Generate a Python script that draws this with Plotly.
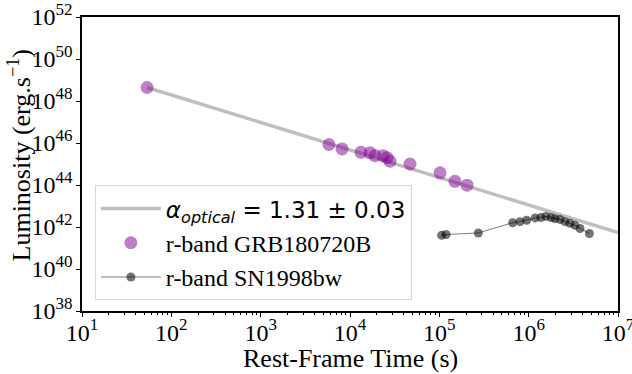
import numpy as np
import plotly.graph_objects as go

# GRB180720B r-band (rest-frame time s, luminosity erg/s)
grb_t = [53.5, 5820, 8150, 13270, 16750, 19050, 23440, 25950, 28050, 46970, 101900, 149600, 204300]
grb_L = [4.4e48, 8.5e45, 5.2e45, 3.6e45, 3.4e45, 2.5e45, 2.5e45, 2.0e45, 1.35e45, 1.0e45, 3.8e44, 1.5e44, 9.8e43]

# SN1998bw r-band
sn_t = [1.06e5, 1.19e5, 2.73e5, 6.62e5, 8.0e5, 9.5e5, 1.18e6, 1.37e6, 1.56e6, 1.78e6, 1.97e6,
        2.24e6, 2.55e6, 2.9e6, 3.3e6, 3.76e6, 4.78e6]
sn_L = [4.0e41, 4.4e41, 5.2e41, 1.6e42, 1.8e42, 2.1e42, 2.7e42, 2.8e42, 3.2e42, 2.8e42, 2.5e42,
        2.3e42, 1.8e42, 1.5e42, 1.2e42, 8.5e41, 4.9e41]

# power-law fit
alpha = 1.31
fit_t0 = 53.5
fit_L0 = 4.4e48
fit_t = np.logspace(np.log10(fit_t0), 7, 60)
fit_L = fit_L0 * (fit_t / fit_t0) ** (-alpha)

y_exps = list(range(38, 53, 2))
x_exps = list(range(1, 8))
y_tickvals = [10.0 ** e for e in y_exps]
y_ticktext = ["10<sup><span style='font-size:17px'>%d</span></sup>" % e for e in y_exps]
x_tickvals = [10.0 ** e for e in x_exps]
x_ticktext = ["10<sup><span style='font-size:17px'>%d</span></sup>" % e for e in x_exps]
x_minor = [m * 10 ** e for e in range(1, 7) for m in range(2, 10)]

x_title = "Rest-Frame Time (s)"
y_title = "Luminosity (erg.s<sup>−1</sup>)"

SERIF = "Liberation Serif"

fig = go.Figure()
fig.add_trace(go.Scatter(
    x=fit_t, y=fit_L, mode="lines",
    line=dict(color="rgba(128,128,128,0.5)", width=3.5),
    name='<span style="font-family:DejaVu Sans;font-size:23px"><i>α</i><sub><i>optical</i></sub> = 1.31 ± 0.03</span>'))
fig.add_trace(go.Scatter(
    x=grb_t, y=grb_L, mode="markers",
    marker=dict(color="rgba(128,0,140,0.5)", size=13, line=dict(width=0)),
    name='<span style="font-size:24px">r-band GRB180720B</span>'))
fig.add_trace(go.Scatter(
    x=sn_t, y=sn_L, mode="lines+markers",
    line=dict(color="rgba(0,0,0,0.5)", width=1),
    marker=dict(color="rgba(0,0,0,0.55)", size=9, line=dict(width=0)),
    name='<span style="font-size:24px">r-band SN1998bw</span>'))

axis_common = dict(
    type="log", showgrid=False, zeroline=False, showline=True, linecolor="black", linewidth=1.5,
    mirror=True, ticks="outside", ticklen=4, tickcolor="black", ticklabeloverflow="allow",
    automargin=False,
    tickfont=dict(family=SERIF, size=24, color="black"),
)
fig.update_xaxes(**axis_common, range=[1, 7], tickmode="array", tickvals=x_tickvals, ticktext=x_ticktext,
                 minor=dict(ticks="outside", ticklen=2.5, tickcolor="black", tickvals=x_minor),
                 ticklabelstandoff=-5)
fig.update_yaxes(**axis_common, range=[38, 52], tickmode="array", tickvals=y_tickvals, ticktext=y_ticktext,
                 ticklabelstandoff=-1)

fig.add_annotation(text=x_title, xref="paper", yref="paper", x=0.5, y=-0.162,
                   xanchor="center", yanchor="middle", showarrow=False,
                   font=dict(family=SERIF, size=26, color="black"))
fig.add_annotation(text=y_title, xref="paper", yref="paper", x=-0.117, y=0.53,
                   xanchor="center", yanchor="middle", textangle=-90, showarrow=False,
                   font=dict(family=SERIF, size=26, color="black"))

fig.update_layout(
    width=632, height=374,
    margin=dict(l=82, r=14, t=17, b=63),
    paper_bgcolor="white", plot_bgcolor="white",
    showlegend=True,
    legend=dict(x=0.024, y=0.427, xanchor="left", yanchor="top", itemwidth=60,
                bgcolor="rgba(255,255,255,0.8)", bordercolor="#d8d8d8", borderwidth=1,
                font=dict(family=SERIF, size=24, color="black")),
)
fig.write_html("out.html")
